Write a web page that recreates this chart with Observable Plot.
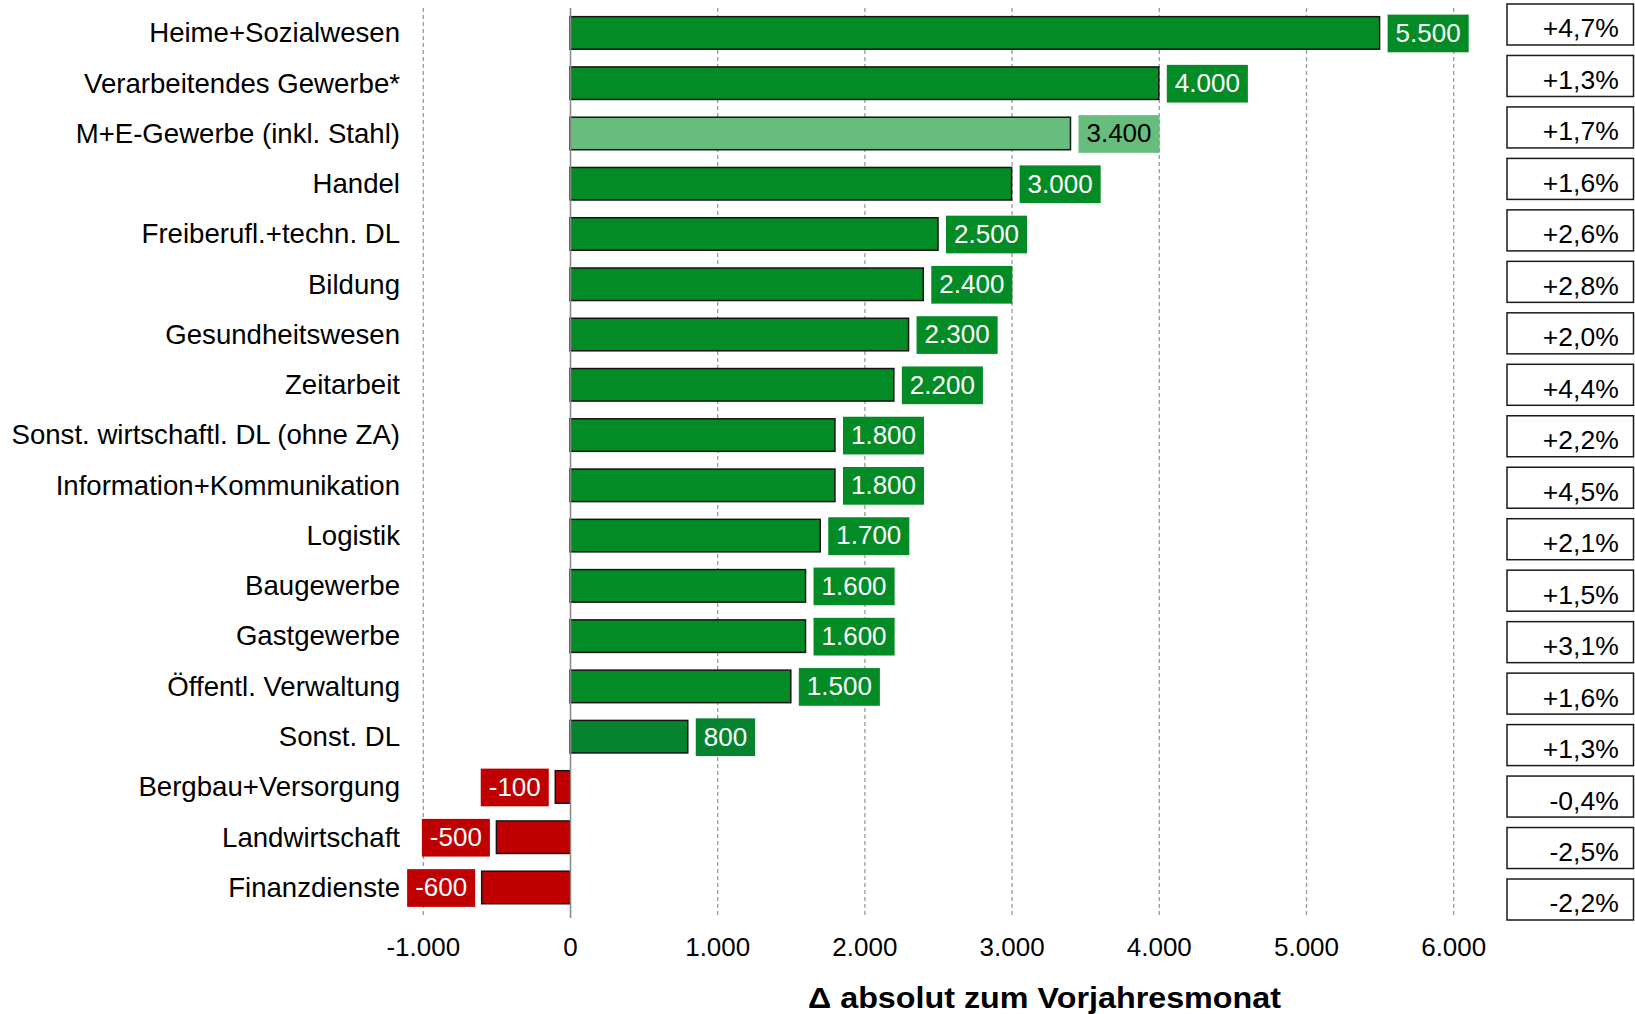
<!DOCTYPE html>
<html lang="de">
<head>
<meta charset="utf-8">
<title>Beschäftigungsveränderung nach Branchen</title>
<script src="https://cdn.jsdelivr.net/npm/d3@7"></script>
<script src="https://cdn.jsdelivr.net/npm/@observablehq/plot@0.6"></script>
<style>
  html, body { margin: 0; padding: 0; background: #fff; }
  #chart { position: relative; width: 1635px; height: 1014px; overflow: hidden; }
  #chart svg { display: block; }
  #pct { position: absolute; left: 1500px; top: 0; }
</style>
</head>
<body>
<div id="chart"><div id="pct"></div></div>
<script>
// Branchen, absolute Veränderung zum Vorjahresmonat und relative Veränderung in %
const categories = [
  "Heime+Sozialwesen",
  "Verarbeitendes Gewerbe*",
  "M+E-Gewerbe (inkl. Stahl)",
  "Handel",
  "Freiberufl.+techn. DL",
  "Bildung",
  "Gesundheitswesen",
  "Zeitarbeit",
  "Sonst. wirtschaftl. DL (ohne ZA)",
  "Information+Kommunikation",
  "Logistik",
  "Baugewerbe",
  "Gastgewerbe",
  "Öffentl. Verwaltung",
  "Sonst. DL",
  "Bergbau+Versorgung",
  "Landwirtschaft",
  "Finanzdienste"
];
const changes = [5500, 4000, 3400, 3000, 2500, 2400, 2300, 2200, 1800, 1800, 1700, 1600, 1600, 1500, 800, -100, -500, -600];
const pctChanges = [4.7, 1.3, 1.7, 1.6, 2.6, 2.8, 2.0, 4.4, 2.2, 4.5, 2.1, 1.5, 3.1, 1.6, 1.3, -0.4, -2.5, -2.2];
const xTicks = [-1000, 0, 1000, 2000, 3000, 4000, 5000, 6000];
const axisTitle = "Δ absolut zum Vorjahresmonat";

const rows = categories.map((name, i) => ({name, value: changes[i], pct: pctChanges[i]}));

const FONT = "'Liberation Sans', Arial, Helvetica, sans-serif";
const GREEN = "#038c25";
const GREEN_LIGHT = "#67bd7d";
const GREEN_DARK = "#05832f";
const RED = "#c00000";

// Sub-aggregate (M+E) is shown lighter, "Sonst. DL" slightly darker, losses in red
function barColor(d) {
  if (d.value < 0) return RED;
  if (d.name === "M+E-Gewerbe (inkl. Stahl)") return GREEN_LIGHT;
  if (d.name === "Sonst. DL") return GREEN_DARK;
  return GREEN;
}
function textColor(d) {
  return barColor(d) === GREEN_LIGHT ? "#000" : "#fff";
}

const de = d3.formatLocale({decimal: ",", thousands: ".", grouping: [3], currency: ["", " €"], minus: "-"});
const fmtNum = de.format(",d");
const fmtPct = v => (v > 0 ? "+" : "") + de.format(".1f")(v) + "%";

const posRows = rows.filter(d => d.value >= 0);
const negRows = rows.filter(d => d.value < 0);

const main = Plot.plot({
  width: 1635,
  height: 1014,
  marginLeft: 422.8,
  marginRight: 181.8,
  marginTop: 8,
  marginBottom: 96,
  style: {fontFamily: FONT, fontSize: "26px", color: "#000", background: "transparent"},
  x: {domain: [-1000, 6000], axis: null},
  y: {domain: categories, paddingInner: 0.353, paddingOuter: 0.228, align: 0.378, round: false, axis: null},
  marks: [
    Plot.ruleX(xTicks.filter(t => t !== 0), {stroke: "#9a9a9a", strokeWidth: 1.3, strokeDasharray: "4,3"}),
    Plot.barX(rows, {x: "value", y: "name", fill: barColor, stroke: "#141414", strokeWidth: 1.5, inset: 0}),
    Plot.ruleX([0], {stroke: "#8a8a8a", strokeWidth: 1.6}),
    // text groups in this order: positive values, negative values, axis title
    Plot.text(posRows, {
      x: "value", y: "name", text: d => fmtNum(d.value), fill: textColor,
      textAnchor: "start", dx: 15.5, fontSize: 26
    }),
    Plot.text(negRows, {
      x: "value", y: "name", text: d => fmtNum(d.value), fill: textColor,
      textAnchor: "end", dx: -15, fontSize: 26
    }),
    Plot.axisY({tickSize: 0, tickPadding: 23.3, fontSize: 27.6, label: null}),
    Plot.axisX({ticks: xTicks, tickFormat: fmtNum, tickSize: 0, tickPadding: 18.8, fontSize: 26, label: null}),
    Plot.text([axisTitle], {
      frameAnchor: "bottom", lineAnchor: "middle", dx: 106, dy: 80,
      fontSize: 29, fontWeight: "bold"
    })
  ]
});

const chart = document.getElementById("chart");
chart.insertBefore(main, chart.firstChild);

const textGroups = main.querySelectorAll('g[aria-label="text"]');

// Coloured boxes behind the value labels (placed with the label's own transform)
function addLabelBoxes(group, data) {
  if (!group) return;
  group.querySelectorAll("text").forEach((t, i) => {
    const b = t.getBBox();
    const cy = b.y + b.height / 2 + 0.7;
    const r = document.createElementNS("http://www.w3.org/2000/svg", "rect");
    r.setAttribute("x", b.x - 8);
    r.setAttribute("y", cy - 18.85);
    r.setAttribute("width", b.width + 16);
    r.setAttribute("height", 37.7);
    r.setAttribute("fill", barColor(data[i]));
    const tr = t.getAttribute("transform");
    if (tr) r.setAttribute("transform", tr);
    t.parentNode.insertBefore(r, t);
  });
}
addLabelBoxes(textGroups[0], posRows);
addLabelBoxes(textGroups[1], negRows);

// Axis title set slightly wide and tight
if (textGroups[2]) {
  textGroups[2].querySelectorAll("text").forEach(t => {
    t.setAttribute("textLength", 473);
    t.setAttribute("lengthAdjust", "spacingAndGlyphs");
  });
}

// Column with the relative change per branch
const pctPlot = Plot.plot({
  width: 135,
  height: 1014,
  marginLeft: 7,
  marginRight: 1.5,
  marginTop: 4,
  marginBottom: 94,
  style: {fontFamily: FONT, fontSize: "26px", color: "#000", background: "transparent"},
  x: {domain: ["pct"], padding: 0, round: false, axis: null},
  y: {domain: categories, paddingInner: 0.2034, paddingOuter: 0, round: false, axis: null},
  marks: [
    Plot.cell(rows, {x: () => "pct", y: "name", fill: "#fff", stroke: "#1a1a1a", strokeWidth: 1.5, inset: 0}),
    Plot.text(rows, {
      x: () => "pct", y: "name", text: d => fmtPct(d.pct),
      textAnchor: "end", dx: 48, dy: 4, fontSize: 26.5, fill: "#000"
    })
  ]
});
document.getElementById("pct").appendChild(pctPlot);
</script>
</body>
</html>
